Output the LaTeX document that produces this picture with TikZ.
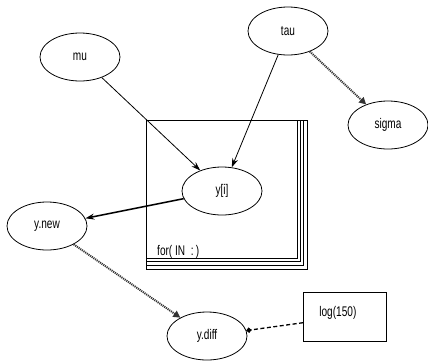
\documentclass[tikz,border=0pt]{standalone}
\usepackage{fontspec}
\setmainfont{Liberation Sans}[FakeStretch=0.72]
\usetikzlibrary{shapes.geometric,arrows.meta}

\begin{document}
\begin{tikzpicture}[x=1pt,y=-1pt,font=\fontsize{14}{16}\selectfont,
  stochnode/.style={ellipse,draw,thick,minimum width=80pt,minimum height=48pt},
  constnode/.style={rectangle,draw,thick,anchor=north west,minimum width=83pt,minimum height=49pt,
    inner xsep=16pt,inner ysep=3pt,text width=51pt,align=left,text height=21pt,text depth=22pt},
  solidlink/.style={line width=0.8pt,-{Stealth[length=9pt,width=6pt]}},
  hatchlink/.style={line width=2pt,black!80,dash pattern=on 1.1pt off 0.9pt,-{Triangle[length=7pt,width=7pt]}},
  dashlink/.style={line width=1.3pt,dash pattern=on 4pt off 2.5pt,-{Circle[length=5pt]}}]
\useasboundingbox (0,0) rectangle (428,360);
  \foreach \k in {0,...,3}
  {  \draw [line width=0.8pt] (146,120) rectangle ++(151+3.3*\k,138+3.7*\k);}
\node [anchor=base west,inner sep=0pt] (plate) at (157,255) {for( IN \ :\,)};
\node [stochnode] (mu) at (80,57) {mu};
\node [stochnode] (tau) at (288,31) {tau};
\node [stochnode] (sigma) at (388,125) {sigma};
\node [stochnode] (yi) at (222,191) {y[i]};
\node [stochnode] (ynew) at (47,226) {y.new};
\node [stochnode] (ydiff) at (207,336) {y.diff};
\node [constnode] (logc) at (303,292) {log(150)};
\draw [solidlink] (mu) -- (yi);
\draw [solidlink] (tau) -- (yi);
\draw [hatchlink] (tau) -- (sigma);
\draw [solidlink,line width=1.5pt] (yi) -- (ynew);
\draw [hatchlink] (ynew) -- (ydiff);
\draw [dashlink] (logc) -- (ydiff);
\end{tikzpicture}
\end{document}
